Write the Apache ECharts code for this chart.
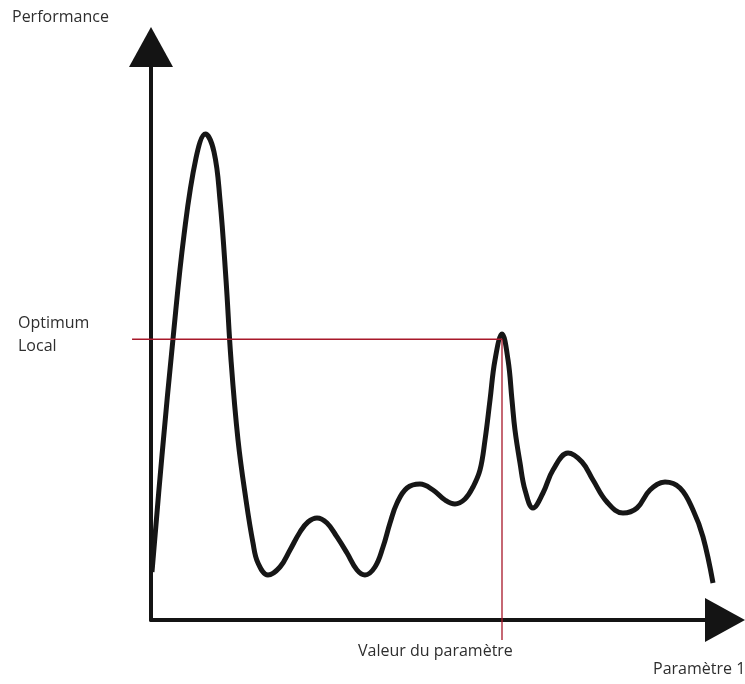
<!DOCTYPE html>
<html>
<head>
<meta charset="utf-8">
<script src="https://cdn.jsdelivr.net/npm/echarts@6/dist/echarts.min.js"></script>
<style>
html,body{margin:0;padding:0;background:#fff;}
#chart{width:745px;height:684px;}
</style>
</head>
<body>
<div id="chart"></div>
<script>
// Parameter value (x) and performance (y)
var paramX = [0.17, 1.92, 3.83, 5.75, 7.84, 9.49, 10.98, 12.02, 13.07, 13.94, 15.16, 16.55, 17.77, 18.64, 20.38,
  22.47, 24.22, 25.96, 27.35, 28.92, 30.66, 32.40, 34.15, 35.89, 37.28, 39.02, 40.42, 41.64, 42.86,
  44.60, 46.86, 49.13, 51.22, 52.96, 54.70, 56.10, 57.32, 58.19, 59.06, 59.93, 61.15, 62.20, 62.89,
  63.41, 64.29, 65.16, 66.55, 68.29, 70.03, 72.65, 75.09, 77.00, 79.44, 82.23, 84.67, 86.93, 89.55,
  92.16, 94.43, 96.17, 97.91];
var perfY = [8.38, 28.80, 49.04, 67.19, 80.63, 84.82, 81.68, 73.30, 59.34, 45.38, 31.41, 20.94, 13.44, 9.95, 7.85,
  9.25, 12.22, 15.36, 17.10, 17.80, 16.93, 14.49, 11.69, 8.73, 7.85, 9.25, 12.74, 16.93, 20.42,
  23.04, 23.73, 22.69, 20.94, 20.24, 21.12, 23.21, 26.18, 31.41, 38.39, 45.38, 49.91, 45.38, 38.39,
  33.16, 27.40, 22.69, 19.55, 22.16, 26.18, 29.14, 27.57, 24.43, 20.59, 18.67, 19.55, 22.69, 24.08,
  23.04, 19.20, 14.49, 6.46];
// Local optimum guide lines (start a little left of the vertical axis, end a little below the horizontal axis)
var optimumX = [-3.3, 61.15, 61.15];
var optimumY = [49.0, 49.0, -3.5];
// Texts
var axisYName = 'Performance';
var axisXName = 'Paramètre 1';
var optimumLabel = 'Optimum\nLocal';
var valueLabel = 'Valeur du paramètre';

function zip(a, b) { return a.map(function (v, i) { return [v, b[i]]; }); }

var chart = echarts.init(document.getElementById('chart'), null, {renderer: 'canvas'});
var axisCommon = {
  type: 'value', min: 0, max: 100,
  axisLine: {show: true, onZero: false, symbol: ['none', 'triangle'], symbolSize: [44, 40],
    lineStyle: {color: '#141414', width: 4}},
  axisTick: {show: false}, axisLabel: {show: false}, splitLine: {show: false}
};
var hiddenAxis = {
  type: 'value', show: false,
  axisLine: {show: false}, axisTick: {show: false}, axisLabel: {show: false}, splitLine: {show: false}
};
var textStyle = {fontFamily: 'Open Sans', fontSize: 16, fill: '#2e2e2e'};
chart.setOption({
  animation: false,
  backgroundColor: '#ffffff',
  grid: [
    {left: 151, right: 20, top: 47, bottom: 64, outerBoundsMode: 'none', containLabel: false},
    // same scale, widened to the left so guide lines can cross the vertical axis
    {left: 0, right: 20, top: 47, bottom: 64, outerBoundsMode: 'none', containLabel: false}
  ],
  xAxis: [
    axisCommon,
    Object.assign({}, hiddenAxis, {gridIndex: 1, min: -151 / 5.74, max: 100})
  ],
  yAxis: [
    axisCommon,
    Object.assign({}, hiddenAxis, {gridIndex: 1, min: 0, max: 100})
  ],
  series: [
    {type: 'line', data: zip(paramX, perfY), smooth: 0.4, showSymbol: false, symbol: 'none',
      lineStyle: {color: '#161616', width: 5}, clip: false, z: 3},
    {type: 'line', xAxisIndex: 1, yAxisIndex: 1, data: zip(optimumX, optimumY), showSymbol: false, symbol: 'none',
      lineStyle: {color: '#a8182a', width: 1.3}, clip: false, z: 4}
  ],
  graphic: [
    {type: 'text', left: 12, top: 9, style: Object.assign({text: axisYName}, textStyle)},
    {type: 'text', left: 18, top: 312, style: Object.assign({text: optimumLabel, lineHeight: 23}, textStyle)},
    {type: 'text', left: 358, top: 643, style: Object.assign({text: valueLabel}, textStyle)},
    {type: 'text', left: 653, top: 661, style: Object.assign({text: axisXName}, textStyle)}
  ]
});
</script>
</body>
</html>
